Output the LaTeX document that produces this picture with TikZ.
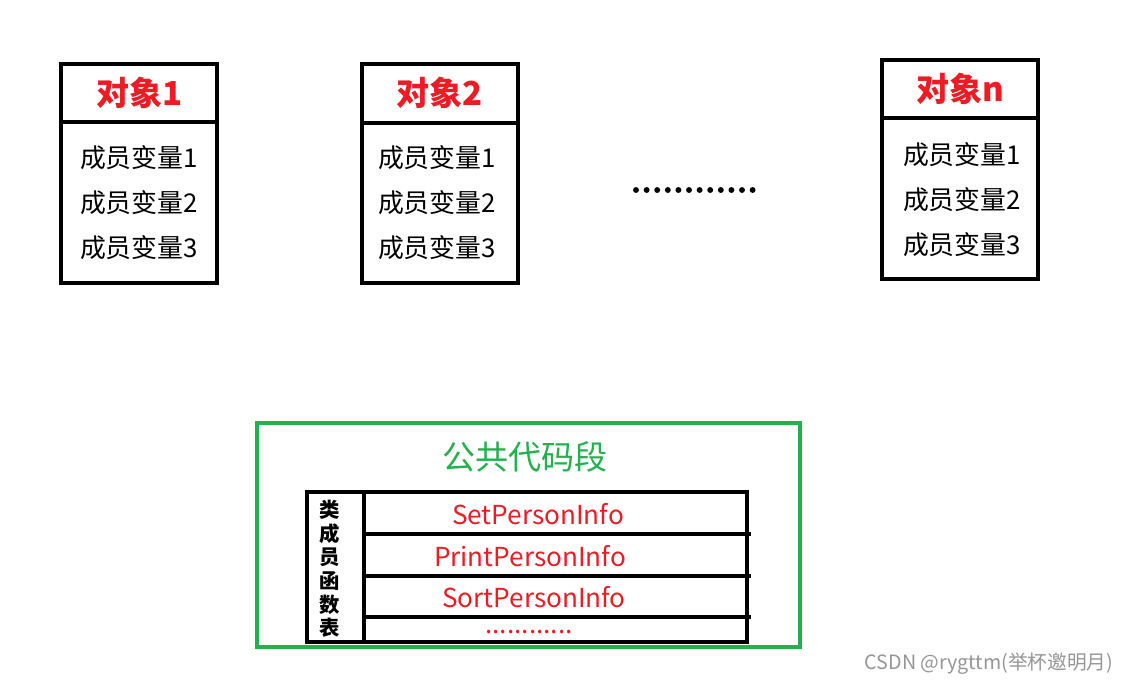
\documentclass[tikz,border=0pt]{standalone}
\usepackage{fontspec}
\setmainfont{Noto Sans CJK SC}
\usetikzlibrary{positioning}
\definecolor{objred}{RGB}{237,28,36}
\definecolor{codegreen}{RGB}{34,177,76}
\definecolor{markgray}{RGB}{150,150,150}

\begin{document}
\begin{tikzpicture}[x=0.025cm, y=-0.025cm, frame/.style={draw, line width=2.8pt}, greenframe/.style={draw=codegreen, line width=2.8pt}, title/.style={font=\fontsize{23.5}{23.5}\selectfont\bfseries, text=objred}, member/.style={font=\fontsize{18.4}{18.4}\selectfont}, func/.style={font=\fontsize{18.6}{18.6}\selectfont, text=objred, inner sep=0.5pt}, dotmark/.style={circle, fill, inner sep=0pt, minimum size=4.2pt}]
\useasboundingbox (0,0) rectangle (1131,685);
% object 1
\draw[frame] (61,64) rectangle (217,283);
\draw[frame] (61,122) -- (219,122);
\node[title] (t1) at (140,93) {对象1};
\node[member] (m11) at (139,158) {成员变量1};
\node[member] (m12) at (139,203) {成员变量2};
\node[member] (m13) at (139,248) {成员变量3};
% object 2
\draw[frame] (362,64) rectangle (518,283);
\draw[frame] (362,123) -- (520,123);
\node[title] (t2) at (440,93) {对象2};
\node[member] (m21) at (437,158) {成员变量1};
\node[member] (m22) at (437,203) {成员变量2};
\node[member] (m23) at (437,248) {成员变量3};
% object n
\draw[frame] (882,60) rectangle (1038,279);
\draw[frame] (882,118) -- (1040,118);
\node[title] (tn) at (960,89) {对象n};
\node[member] (mn1) at (962,155) {成员变量1};
\node[member] (mn2) at (962,200) {成员变量2};
\node[member] (mn3) at (962,245) {成员变量3};
% dots between objects
\foreach \i in {0,...,11}
  \node[dotmark] (d\i) at (636+10.6*\i,190) {};
% shared code segment
\draw[greenframe] (257,423) rectangle (800,647);
\node[font=\fontsize{23.5}{23.5}\selectfont, text=codegreen] (seg) at (525,457) {公共代码段};
\draw[frame] (307,492) rectangle (747,642);
\draw[frame] (364,492) -- (364,642);
\draw[frame] (364,534) -- (751,534);
\draw[frame] (364,576) -- (751,576);
\draw[frame] (364,617) -- (751,617);
\node[font=\fontsize{14.5}{16.8}\selectfont\bfseries, align=center] (tab) at (330,569) {类\\成\\员\\函\\数\\表};
\node[func] (f1) at (538,514) {SetPersonInfo};
\node[func] (f2) at (530,556) {PrintPersonInfo};
\node[func] (f3) at (534,597) {SortPersonInfo};
\node[func, text height=3pt, text depth=0pt, anchor=base] (f4) at (529,633) {............};
% watermark
\node[font=\fontsize{14}{14}\selectfont, text=markgray] (wm) at (989,664) {CSDN @rygttm(举杯邀明月)};
\end{tikzpicture}
\end{document}
